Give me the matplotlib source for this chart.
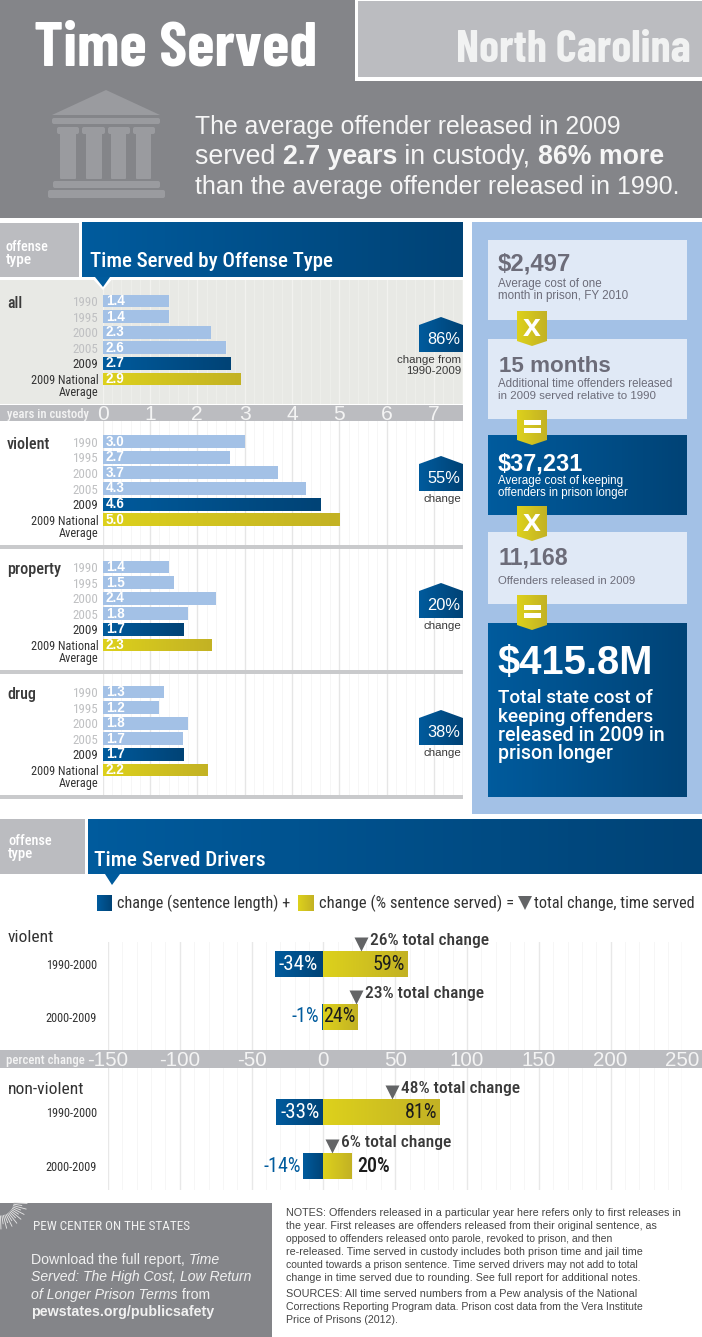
import numpy as np
import matplotlib
matplotlib.use("Agg")
import matplotlib.pyplot as plt
from matplotlib.colors import LinearSegmentedColormap
from matplotlib.patches import Polygon, Rectangle, FancyBboxPatch
from matplotlib.ticker import MultipleLocator

# ---------- data ----------
years = ["1990", "1995", "2000", "2005", "2009", "2009 National"]
all_vals = [1.4, 1.4, 2.3, 2.6, 2.7, 2.9]
violent_vals = [3.0, 2.7, 3.7, 4.3, 4.6, 5.0]
property_vals = [1.4, 1.5, 2.4, 1.8, 1.7, 2.3]
drug_vals = [1.3, 1.2, 1.8, 1.7, 1.7, 2.2]
offense_changes = ["86%", "55%", "20%", "38%"]
custody_ticks = [0, 1, 2, 3, 4, 5, 6, 7]

periods = ["1990-2000", "2000-2009"]
violent_length = [-34, -1]
violent_served = [59, 24]
violent_total = [26, 23]
nonviolent_length = [-33, -14]
nonviolent_served = [81, 20]
nonviolent_total = [48, 6]
pct_ticks = [-150, -100, -50, 0, 50, 100, 150, 200, 250]

# ---------- helpers ----------
W, H = 702, 1337
fig = plt.figure(figsize=(W / 100, H / 100), dpi=100, facecolor="white")
renderer = fig.canvas.get_renderer()
SANS = ["Liberation Sans", "DejaVu Sans"]
NARROW = ["Roboto Condensed", "Liberation Sans", "DejaVu Sans"]
TITLE = ["Barlow Condensed", "Roboto Condensed", "Liberation Sans", "DejaVu Sans"]
BLUE0, BLUE1 = "#005b9d", "#004376"
YEL0, YEL1 = "#ddd11c", "#c3b224"
LIGHT = "#a3c1e6"
GRAY = "#bbbcc0"
DARKG = "#848589"
BOX = "#e0e9f6"
cm_blue = LinearSegmentedColormap.from_list("b", [BLUE0, BLUE1])
cm_yel = LinearSegmentedColormap.from_list("y", [YEL0, YEL1])
GRADIENT = np.array([np.linspace(0, 1, 64)])


def px_axes(z):
    a = fig.add_axes([0, 0, 1, 1], zorder=z)
    a.set_xlim(0, W)
    a.set_ylim(H, 0)
    a.axis("off")
    a.patch.set_alpha(0)
    return a


bg = px_axes(-1)
fg = px_axes(5)


def pt(p):
    return p * 0.72


def rect(x0, y0, x1, y1, c, ax=bg, z=1):
    ax.add_patch(Rectangle((x0, y0), x1 - x0, y1 - y0, fc=c, ec="none", zorder=z))


def grad(x0, y0, x1, y1, cmap=cm_blue, poly=None, ax=bg, z=2):
    im = ax.imshow(GRADIENT, extent=[x0, x1, y1, y0], aspect="auto", cmap=cmap, zorder=z)
    if poly is not None:
        p = Polygon(poly, closed=True, transform=ax.transData, fc="none", ec="none")
        ax.add_patch(p)
        im.set_clip_path(p)
    ax.set_xlim(0, W)
    ax.set_ylim(H, 0)


def txt(x, base, s, px, color="white", weight="normal", family=SANS, ha="left", style="normal", width=None, ax=fg, z=8):
    t = ax.text(x, base, s, fontsize=pt(px), color=color, fontweight=weight, family=family,
                ha=ha, va="baseline", style=style, zorder=z)
    if width is not None:
        w = t.get_window_extent(renderer).width
        t.set_fontsize(t.get_fontsize() * width / w)
    return t


def runs(x, base, parts, px, color, width, family=SANS):
    def adv(s, w, st, fs):
        a = fg.text(0, 0, s + "|", fontsize=fs, fontweight=w, style=st, family=family)
        b = fg.text(0, 0, "|", fontsize=fs, fontweight=w, style=st, family=family)
        v = a.get_window_extent(renderer).width - b.get_window_extent(renderer).width
        a.remove(); b.remove()
        return v
    fs = pt(px)
    total = sum(adv(s, w, st, fs) for s, w, st in parts)
    fs = fs * width / total
    for s, w, st in parts:
        fg.text(x, base, s, fontsize=fs, fontweight=w, style=st, family=family, color=color, va="baseline", zorder=8)
        x += adv(s, w, st, fs)


# ---------- header ----------
rect(0, 0, W, 218, DARKG)
rect(355, 0, W, 81, "white", z=2)
rect(358, 1, W, 77, GRAY, z=3)
txt(34, 65, "Time Served", 58, weight="bold", family=TITLE, width=283)
txt(456, 62, "North Carolina", 41, color="#f1f2f2", weight="bold", family=TITLE, width=234)

ICON = "#9a9b9f"
bg.add_patch(Polygon([(106, 90), (160, 115), (52, 115)], fc=ICON, ec="none", zorder=2))
for a, b, c, d, r in [(52, 118, 160, 124, 2), (57, 127, 79, 134, 2), (82, 127, 105, 134, 2), (108, 127, 130, 134, 2),
                      (133, 127, 155, 134, 2), (60, 133, 76, 179, 1), (86, 133, 102, 179, 1), (111, 133, 126, 179, 1),
                      (136, 133, 151, 179, 1), (53, 181, 160, 188, 2), (48, 190, 165, 198, 2)]:
    bg.add_patch(FancyBboxPatch((a + r, b + r), c - a - 2 * r, d - b - 2 * r, boxstyle=f"round,pad={r},rounding_size={r}",
                                fc=ICON, ec="none", zorder=2))
runs(195, 134, [("The average offender released in 2009", "normal", "normal")], 25, "#f6f6f6", 427)
runs(195, 164, [("served ", "normal", "normal"), ("2.7 years", "bold", "normal"), (" in custody, ", "normal", "normal"),
                ("86% more", "bold", "normal")], 25, "#f6f6f6", 470)
runs(195, 194, [("than the average offender released in 1990.", "normal", "normal")], 25, "#f6f6f6", 485)

# ---------- section header 1 ----------
rect(0, 223, 79, 277, GRAY)
grad(82, 222, 463, 277)
txt(6, 251, "offense", 15, weight=500, family=NARROW, width=43)
txt(6, 264, "type", 15, weight=500, family=NARROW, width=26)
txt(90, 267, "Time Served by Offense Type", 24, family=NARROW, weight=500, width=243)

# ---------- offense panels ----------
rect(0, 280, 463, 404, "#e8e9e5")
rect(0, 405, 463, 421, GRAY, z=2)
rect(0, 545, 463, 549, "#c9cacc", z=2)
rect(0, 670, 463, 674, "#c9cacc", z=2)
rect(0, 795, 463, 799, "#c9cacc", z=2)
fg.add_patch(Polygon([(91, 277), (114, 277), (103, 290)], fc="white", ec="none", zorder=2))
fg.add_patch(Polygon([(95, 277), (110, 277), (103, 287)], fc=BLUE0, ec="none", zorder=3))

SCALE = 47.35
STEP = 15.6


def offense_axes(top, bottom, first, values, name, name_base, name_w, change, badge_top, change_lines, grid_major, grid_minor, show_ticks=False):
    ax = fig.add_axes([102.5 / W, 1 - bottom / H, (463 - 102.5) / W, (bottom - top) / H], zorder=1)
    ax.patch.set_alpha(0)
    for s in ax.spines.values():
        s.set_visible(False)
    xmax = (463 - 102.5) / SCALE
    ylim = ((bottom - first) / STEP, (top - first) / STEP)
    ypos = np.arange(len(values))
    fills = [LIGHT] * 4 + [BLUE0, YEL0]
    bars = ax.barh(ypos, values, height=0.83, color=fills, zorder=2)
    for i, cmap in ((4, cm_blue), (5, cm_yel)):
        im = ax.imshow(GRADIENT, extent=[0, values[i], i + .415, i - .415], aspect="auto", cmap=cmap, zorder=3)
        im.set_clip_path(bars[i])
    ax.set_aspect("auto")
    ax.set_xlim(0, xmax)
    ax.set_ylim(*ylim)
    for i, v in enumerate(values):
        ax.annotate(f"{v:.1f}", (0, i), xytext=(2.5, 0), textcoords="offset points", color="white", fontsize=pt(13.5),
                    fontweight="bold", family=SANS, va="center", ha="left", zorder=4)
    ax.set_yticks(ypos, years, family=NARROW, fontsize=pt(13))
    ax.tick_params(axis="y", length=0, pad=3)
    labs = ax.get_yticklabels()
    for lab, c in zip(labs, ["#bfc0c2"] * 4 + ["#333333"] * 2):
        lab.set_color(c)
    labs[-1].set_fontsize(pt(12.2))
    ax.annotate("Average", (0, 5), xytext=(-3, -9.6), textcoords="offset points", color="#333333", family=NARROW,
                fontsize=pt(12.2), ha="right", va="center", annotation_clip=False)
    if show_ticks:
        ax.set_xticks(custody_ticks, [str(t) for t in custody_ticks], family=SANS, fontsize=pt(21), color="#f4f4f4")
        ax.tick_params(axis="x", which="major", pad=0.5, colors="#f4f4f4")
    else:
        ax.set_xticks(custody_ticks, [""] * len(custody_ticks))
    ax.xaxis.set_minor_locator(MultipleLocator(0.2))
    ax.tick_params(axis="x", which="both", length=0)
    ax.grid(True, axis="x", which="major", color=grid_major, lw=1)
    ax.grid(True, axis="x", which="minor", color=grid_minor, lw=0.7)
    ax.set_axisbelow(True)
    txt(7, name_base, name, 16, color="#3a3a3a", family=NARROW, weight=500, width=name_w)
    poly = [(419, badge_top + 8), (441, badge_top), (463, badge_top + 8), (463, badge_top + 35), (419, badge_top + 35)]
    grad(419, badge_top, 463, badge_top + 35, poly=poly, z=3, ax=fg)
    txt(460, badge_top + 27, change, 20, ha="right", width=33)
    for j, line in enumerate(change_lines):
        txt(461, badge_top + 46 + j * 11, line, 11.5, color="#3a3a3a", ha="right")
    return ax


offense_axes(280, 404, 301, all_vals, "all", 308, 15, offense_changes[0], 317, ["change from", "1990-2009"], "#f2f2ef", "#eeefeb", True)
offense_axes(421, 545, 441.7, violent_vals, "violent", 449, 43, offense_changes[1], 456, ["change"], "#e6e6e6", "#f6f6f6")
offense_axes(549, 670, 567, property_vals, "property", 574, 54, offense_changes[2], 583, ["change"], "#e6e6e6", "#f6f6f6")
offense_axes(674, 795, 692, drug_vals, "drug", 699, 29, offense_changes[3], 710, ["change"], "#e6e6e6", "#f6f6f6")
txt(7, 418, "years in custody", 14, weight=500, color="#f4f4f4", family=NARROW, width=82)

# ---------- cost panel ----------
rect(472, 222, W, 814, LIGHT)
rect(488, 240, 687, 320, BOX, z=2)
rect(488, 339, 687, 419, BOX, z=2)
grad(488, 435, 687, 515)
rect(488, 532, 687, 604, BOX, z=2)
grad(488, 623, 687, 797)


def connector(y, symbol):
    poly = [(517, y), (547, y), (547, y + 30), (532, y + 35), (517, y + 30)]
    grad(517, y, 547, y + 35, cm_yel, poly, z=4)
    if symbol == "x":
        txt(532, y + 25, "x", 32, weight="bold", ha="center", family=SANS)
    else:
        rect(524, y + 10, 541, y + 14.5, "white", z=5)
        rect(524, y + 18, 541, y + 22.5, "white", z=5)


connector(311, "x")
connector(410, "=")
connector(506, "x")
connector(595, "=")
CT = "#6c6c79"
txt(498, 271, "$2,497", 24, CT, "bold", width=73)
txt(498, 287, "Average cost of one", 12.5, CT, width=103)
txt(498, 299, "month in prison, FY 2010", 12.5, CT, width=130)
txt(499, 372, "15 months", 24, CT, "bold", width=112)
txt(498, 387, "Additional time offenders released", 12.5, CT, width=175)
txt(498, 399, "in 2009 served relative to 1990", 12.5, CT, width=158)
txt(498, 470, "$37,231", 24, "white", "bold", width=85)
txt(498, 484, "Average cost of keeping", 12.5, "white", width=125)
txt(498, 496, "offenders in prison longer", 12.5, "white", width=131)
txt(498, 564, "11,168", 24, CT, "bold", width=69)
txt(498, 584, "Offenders released in 2009", 12.5, CT, width=138)
txt(498, 674, "$415.8M", 42, "white", "bold", width=155)
for base, line, w in [(703, "Total state cost of", 155), (722, "keeping offenders", 156), (741, "released in 2009 in", 168), (759, "prison longer", 115)]:
    txt(498, base, line, 19, "white", weight=500, family=["Roboto", "Liberation Sans"], width=w)

# ---------- drivers ----------
rect(0, 819, 85, 874, GRAY)
grad(88, 819, W, 874)
bg.add_patch(Polygon([(105, 874), (120, 874), (112, 885)], fc=BLUE0, ec="none", zorder=3))
txt(8, 845, "offense", 16, weight=500, family=NARROW, width=43)
txt(8, 858, "type", 16, weight=500, family=NARROW, width=25)
txt(94, 866, "Time Served Drivers", 24, weight=500, family=NARROW, width=171)
grad(97, 895, 112, 911)
grad(298, 895, 314, 911, cm_yel)
bg.add_patch(Polygon([(518, 896), (532, 896), (525, 910)], fc="#636466", ec="none", zorder=3))
LG = "#333333"
txt(117, 908, "change (sentence length) +", 17, LG, family=NARROW, width=174)
txt(319, 908, "change (% sentence served) =", 17, LG, family=NARROW, width=195)
txt(534, 908, "total change, time served", 17, LG, family=NARROW, width=161)
rect(0, 1050, W, 1068, GRAY, z=2)
txt(6, 1064, "percent change", 13, weight=500, color="#f4f4f4", family=NARROW, width=78)

P0, P1 = 108, 682.4


def driver_axes(top, bottom, c0, step, length, served, total, show_ticks, name, name_base, styles):
    ax = fig.add_axes([P0 / W, 1 - bottom / H, (P1 - P0) / W, (bottom - top) / H], zorder=1)
    ax.patch.set_alpha(0)
    for s in ax.spines.values():
        s.set_visible(False)
    y = np.arange(2)
    b1 = ax.barh(y, length, height=26 / step, color=BLUE0, zorder=2)
    b2 = ax.barh(y, served, height=26 / step, color=YEL0, zorder=2)
    h = 13 / step
    for i in y:
        im = ax.imshow(GRADIENT, extent=[length[i], 0, i + h, i - h], aspect="auto", cmap=cm_blue, zorder=3)
        im.set_clip_path(b1[i])
        im = ax.imshow(GRADIENT, extent=[0, served[i], i + h, i - h], aspect="auto", cmap=cm_yel, zorder=3)
        im.set_clip_path(b2[i])
    ax.set_aspect("auto")
    ax.set_xlim(-150, 250)
    ax.set_ylim((bottom - c0) / step, (top - c0) / step)
    ax.set_yticks(y, periods, family=NARROW, fontsize=pt(12.3), color="#333333")
    ax.tick_params(axis="y", length=0, pad=8)
    if show_ticks:
        ax.set_xticks(pct_ticks, [str(t) for t in pct_ticks], family=SANS, fontsize=pt(20.5), color="#f4f4f4")
        ax.tick_params(axis="x", which="major", pad=1)
    else:
        ax.set_xticks(pct_ticks, [""] * len(pct_ticks))
    ax.xaxis.set_minor_locator(MultipleLocator(10))
    ax.tick_params(axis="x", which="both", length=0)
    ax.grid(True, axis="x", which="major", color="#e8e8e8", lw=1)
    ax.grid(True, axis="x", which="minor", color="#f6f6f6", lw=0.7)
    ax.set_axisbelow(True)
    for i in y:
        if styles[i][0] == "in":
            ax.annotate(f"{length[i]}%", (length[i], i), xytext=(3, 0), textcoords="offset points", color="white",
                        family=NARROW, fontsize=pt(21), va="center", zorder=5)
        else:
            ax.annotate(f"{length[i]}%", (length[i], i), xytext=(-2, 0), textcoords="offset points", color="#005b9d",
                        family=NARROW, fontsize=pt(20), va="center", ha="right", zorder=5)
        if styles[i][1] == "in":
            ax.annotate(f"{served[i]}%", (served[i], i), xytext=(-2, 0), textcoords="offset points", color="#1c1c1c",
                        family=NARROW, fontsize=pt(20), va="center", ha="right", zorder=5)
        else:
            ax.annotate(f"{served[i]}%", (served[i], i), xytext=(4, 0), textcoords="offset points", color="#1c1c1c",
                        family=NARROW, fontsize=pt(20), va="center", ha="left", zorder=5, fontweight=500)
        ax.plot([total[i]], [i - (13 + 7) / step], marker="v", ms=9.5, mfc="#636466", mec="none", ls="none", zorder=6, clip_on=False)
        ax.annotate(f"{total[i]}% total change", (total[i], i - 13 / step), xytext=(6.5, 1.9),
                    textcoords="offset points", color="#3a3a3a", family=NARROW, fontweight=500, fontsize=pt(17.5),
                    va="bottom", ha="left", annotation_clip=False)
    txt(8, name_base, name, 17.5, color="#333333", family=NARROW)
    return ax


driver_axes(942, 1050, 964, 53, violent_length, violent_served, violent_total, True, "violent", 942,
            [("in", "in"), ("out", "in")])
driver_axes(1068, 1190, 1112, 54, nonviolent_length, nonviolent_served, nonviolent_total, False, "non-violent", 1094,
            [("in", "in"), ("out", "out")])

# ---------- footer ----------
rect(0, 1203, 272, 1337, DARKG)
for n, ang in enumerate(np.linspace(3, 88, 15)):
    r0, r1 = 14, (27 if n % 2 == 0 else 22)
    c, s = np.cos(np.radians(ang)), np.sin(np.radians(ang))
    bg.plot([r0 * c, r1 * c], [1202 + r0 * s, 1202 + r1 * s], color="#e9e9e9", lw=0.6, zorder=3)
bg.set_xlim(0, W); bg.set_ylim(H, 0)
F = "#f1f1f1"
txt(33, 1230, "PEW CENTER ON THE STATES", 14, F, family=NARROW, width=157)
runs(31, 1264, [("Download the full report, ", "normal", "normal"), ("Time", "normal", "italic")], 15, F, 189)
runs(31, 1281, [("Served: The High Cost, Low Return", "normal", "italic")], 15, F, 221)
runs(31, 1299, [("of Longer Prison Terms", "normal", "italic"), (" from", "normal", "normal")], 15, F, 179)
runs(31, 1316, [("pewstates.org/publicsafety", "bold", "normal")], 15, F, 182)

NOTE = "#454545"
notes = [
    (1216, "NOTES: Offenders released in a particular year here refers only to first releases in", 394),
    (1229, "the year. First releases are offenders released from their original sentence, as", 367),
    (1242, "opposed to offenders released onto parole, revoked to prison, and then", 326),
    (1255, "re-released. Time served in custody includes both prison time and jail time", 354),
    (1268, "counted towards a prison sentence. Time served drivers may not add to total", 353),
    (1281, "change in time served due to rounding. See full report for additional notes.", 350),
    (1297, "SOURCES: All time served numbers from a Pew analysis of the National", 349),
    (1310, "Corrections Reporting Program data. Prison cost data from the Vera Institute", 358),
    (1323, "Price of Prisons (2012).", 112),
]
for base, line, w in notes:
    txt(286, base, line, 11.5, NOTE, width=w)

fig.savefig("out.png", dpi=100, facecolor="white")
